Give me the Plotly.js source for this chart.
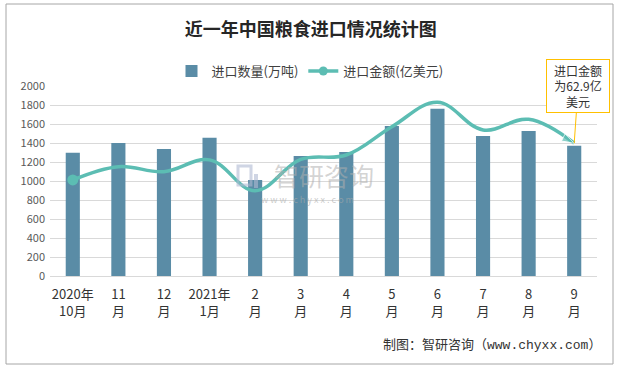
<!DOCTYPE html>
<html>
<head>
<meta charset="utf-8">
<script src="https://cdn.plot.ly/plotly-3.0.1.min.js"></script>
<style>html,body{margin:0;padding:0;background:#fff;}#chart{width:618px;height:368px;}</style>
</head>
<body>
<div id="chart"></div>
<script>
var categories = ["2020年<br>10月","11<br>月","12<br>月","2021年<br>1月","2<br>月","3<br>月","4<br>月","5<br>月","6<br>月","7<br>月","8<br>月","9<br>月"];
var quantity = [1298, 1400, 1338, 1455, 1010, 1263, 1305, 1580, 1760, 1475, 1527, 1370];
var amount = [45.5, 51.8, 49.4, 55.0, 40.4, 55.2, 57.3, 70.7, 82.3, 69.2, 74.2, 62.9];
var seriesNames = ["进口数量(万吨)", "进口金额(亿美元)"];
var yTicks = [0, 200, 400, 600, 800, 1000, 1200, 1400, 1600, 1800, 2000];

var W = 618, H = 368, L = 50, R = 597, T = 86, B = 276;
function px(x){ return (x - L) / (R - L); }
function py(y){ return (B - y) / (B - T); }

var n = amount.length;
var arrowSizes = amount.map(function(v,i){ return i === n-1 ? 13 : 0; });
var lineColor = '#5cbdb3';

var traces = [
  {
    type: 'bar', name: seriesNames[0], x: categories, y: quantity,
    marker: {color: '#5a8ca6'}, yaxis: 'y', hoverinfo: 'skip', showlegend: true
  },
  {
    type: 'scatter', mode: 'lines+markers', name: seriesNames[1], x: categories, y: amount,
    yaxis: 'y2', line: {color: lineColor, width: 3.5, shape: 'spline', smoothing: 1.1},
    marker: {color: lineColor, symbol: 'arrow', size: arrowSizes, angleref: 'previous'},
    hoverinfo: 'skip', showlegend: false
  },
  {
    type: 'scatter', mode: 'markers', name: seriesNames[1], x: [categories[0]], y: [amount[0]],
    yaxis: 'y2', marker: {color: lineColor, symbol: 'circle', size: 11},
    hoverinfo: 'skip', showlegend: false
  },
  {
    type: 'scatter', mode: 'lines+markers', name: seriesNames[1], x: [null], y: [null],
    yaxis: 'y2', line: {color: lineColor, width: 3.5},
    marker: {color: lineColor, symbol: 'circle', size: 9},
    hoverinfo: 'skip', showlegend: true
  }
];

var layout = {
  width: W, height: H,
  margin: {l: L, r: W - R, t: T, b: H - B},
  paper_bgcolor: '#ffffff', plot_bgcolor: '#ffffff',
  font: {family: 'Noto Sans CJK SC, Noto Sans, sans-serif', color: '#404040'},
  title: {text: '<b>近一年中国粮食进口情况统计图</b>', x: 0.503, xanchor: 'center', y: 1 - 30/H, yanchor: 'middle', yref: 'container',
          font: {size: 18, color: '#262626', family: 'Noto Sans CJK SC, sans-serif'}},
  bargap: 0.69,
  showlegend: true,
  legend: {orientation: 'h', x: px(310), xanchor: 'center', y: py(71), yanchor: 'middle',
           font: {size: 13, color: '#404040'}, bgcolor: 'rgba(0,0,0,0)', itemwidth: 30, traceorder: 'normal'},
  xaxis: {type: 'category', range: [-0.5, n - 0.5], autorange: false, showgrid: false, showline: true, linecolor: '#d9d9d9', ticks: '',
          tickfont: {size: 13, color: '#333333'}, ticklabelstandoff: 6, fixedrange: true},
  yaxis: {range: [0, 2000], tickvals: yTicks, showgrid: true, gridcolor: '#d9d9d9', gridwidth: 1,
          zeroline: false, showline: false, ticks: '', tickfont: {size: 11, color: '#595959'}, ticklabelstandoff: 4},
  yaxis2: {range: [0, 90], overlaying: 'y', side: 'right', visible: false, showgrid: false},
  shapes: [
    {type: 'rect', xref: 'paper', yref: 'paper', x0: px(6), x1: px(613), y0: py(364), y1: py(4),
     line: {color: '#a6a6a6', width: 1}, fillcolor: 'rgba(0,0,0,0)', layer: 'below'},
    {type: 'rect', xref: 'paper', yref: 'paper', x0: px(238), x1: px(251), y0: py(185), y1: py(166),
     line: {color: 'rgba(175,185,210,0.6)', width: 3}, fillcolor: 'rgba(0,0,0,0)', layer: 'above'},
    {type: 'rect', xref: 'paper', yref: 'paper', x0: px(254), x1: px(258), y0: py(188), y1: py(174),
     line: {width: 0}, fillcolor: 'rgba(175,185,210,0.6)', layer: 'above'}
  ],
  annotations: [
    {xref: 'paper', yref: 'paper', x: px(324), y: py(175), text: '智研咨询', showarrow: false,
     font: {size: 25, color: 'rgba(175,175,175,0.55)'}},
    {xref: 'paper', yref: 'paper', x: px(307), y: py(199), text: 'w w w . c h y x x . c o m', showarrow: false,
     font: {size: 9, color: 'rgba(170,170,170,0.6)'}},
    {xref: 'x', yref: 'y2', x: categories[n-1], y: amount[n-1], text: '进口金额<br>为62.9亿<br>美元',
     showarrow: true, arrowhead: 0, arrowwidth: 1, arrowcolor: '#ffc000', ax: 4, ay: -57,
     bordercolor: '#ffc000', borderwidth: 1, bgcolor: '#ffffff', width: 60, height: 50, borderpad: 1,
     font: {size: 12, color: '#333333'}},
    {xref: 'paper', yref: 'paper', x: px(603), xanchor: 'right', y: py(345), yanchor: 'middle',
     text: '制图：智研咨询（www.chyxx.com）', showarrow: false,
     font: {size: 13, color: '#333333', family: 'Liberation Mono, Noto Sans CJK SC, monospace'}}
  ]
};

Plotly.newPlot('chart', traces, layout, {displayModeBar: false, staticPlot: true});
</script>
</body>
</html>
